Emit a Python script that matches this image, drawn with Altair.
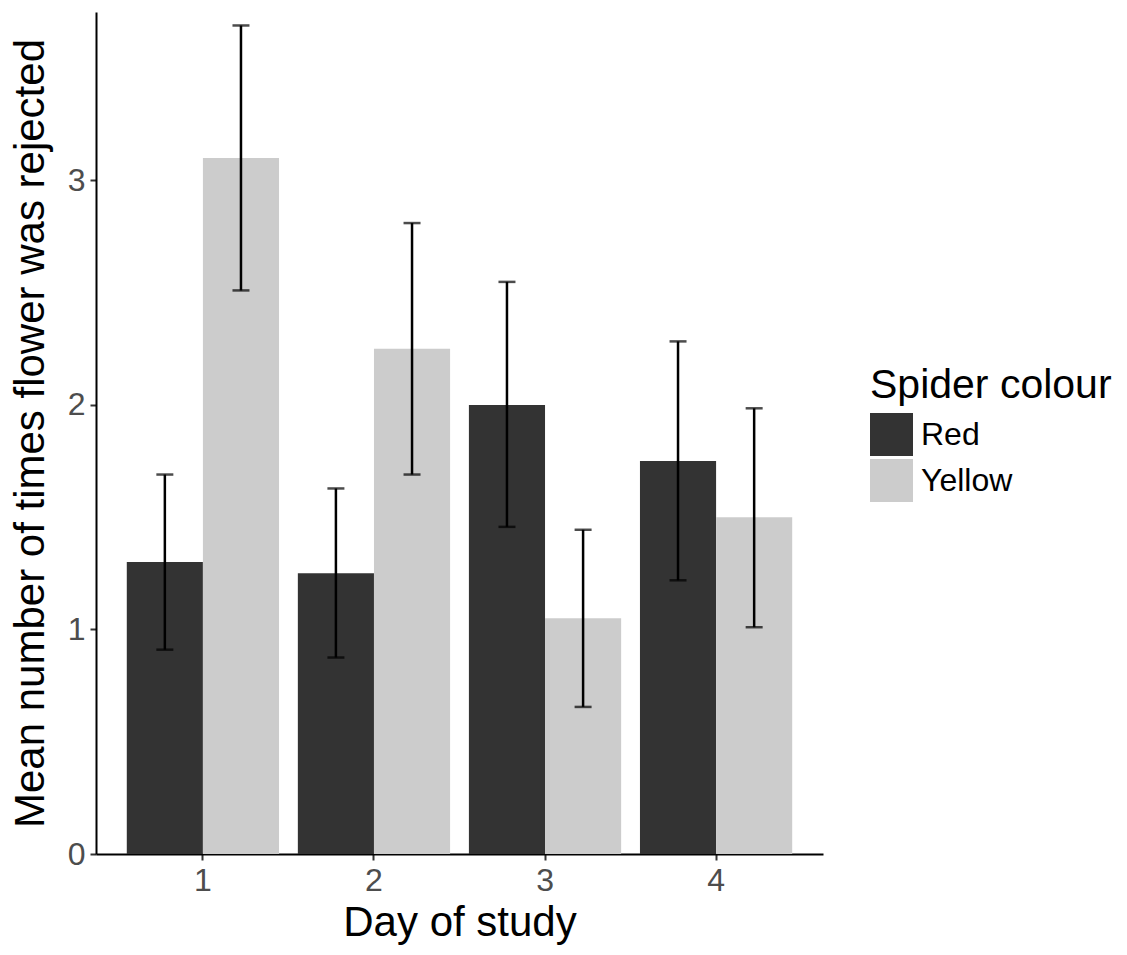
import altair as alt
import pandas as pd

days = ["1", "2", "3", "4"]
groups = ["Red", "Yellow"]
red_mean = [1.30, 1.25, 2.00, 1.75]
red_lower = [0.91, 0.875, 1.457, 1.219]
red_upper = [1.69, 1.628, 2.548, 2.283]
yellow_mean = [3.10, 2.25, 1.05, 1.50]
yellow_lower = [2.51, 1.69, 0.655, 1.01]
yellow_upper = [3.69, 2.81, 1.444, 1.985]
fill_colours = ["#333333", "#cccccc"]

rows = []
for i, d in enumerate(days):
    rows.append({"day": d, "colour": "Red", "mean": red_mean[i], "lo": red_lower[i], "hi": red_upper[i]})
    rows.append({"day": d, "colour": "Yellow", "mean": yellow_mean[i], "lo": yellow_lower[i], "hi": yellow_upper[i]})
df = pd.DataFrame(rows)

FONT = "Liberation Sans"

x_enc = alt.X("day:N", sort=days,
              scale=alt.Scale(paddingInner=0.11, paddingOuter=0.18),
              axis=alt.Axis(title="Day of study", labelAngle=0))
xoff = alt.XOffset("colour:N", sort=groups, scale=alt.Scale(paddingInner=0, paddingOuter=0))
y_scale = alt.Scale(domain=[0, 3.75], nice=False, zero=True)

base = alt.Chart(df)

bars = base.mark_bar(stroke=None).encode(
    x=x_enc,
    xOffset=xoff,
    y=alt.Y("mean:Q", scale=y_scale,
            axis=alt.Axis(title="Mean number of times flower was rejected",
                          values=[0, 1, 2, 3], format="d", titleLimit=900)),
    color=alt.Color("colour:N", sort=groups,
                    scale=alt.Scale(domain=groups, range=fill_colours),
                    legend=alt.Legend(title="Spider colour", orient="none",
                                      legendX=774, legendY=354,
                                      symbolType="square", symbolSize=1849,
                                      symbolStrokeWidth=0, symbolOpacity=1,
                                      titleFontSize=41, titleFont=FONT, titleColor="black",
                                      titleFontWeight="normal", titlePadding=6, titleLimit=400,
                                      labelFontSize=32, labelFont=FONT, labelColor="black",
                                      labelOffset=8, rowPadding=3, labelLimit=300)),
)

rules = base.mark_rule(color="black", strokeWidth=2.5).encode(
    x=x_enc, xOffset=xoff,
    y=alt.Y("lo:Q", scale=y_scale), y2="hi:Q",
)

caps_hi = base.mark_tick(color="black", thickness=2.5, size=17, orient="horizontal").encode(
    x=x_enc, xOffset=xoff, y=alt.Y("hi:Q", scale=y_scale),
)
caps_lo = base.mark_tick(color="black", thickness=2.5, size=17, orient="horizontal").encode(
    x=x_enc, xOffset=xoff, y=alt.Y("lo:Q", scale=y_scale),
)

chart = alt.layer(bars, rules, caps_hi, caps_lo).properties(
    width=727, height=842,
    autosize=alt.AutoSizeParams(type="none"),
    padding={"left": 96, "top": 12, "right": 304, "bottom": 101},
).configure_view(stroke=None).configure_axis(
    grid=False,
    domainColor="black", domainWidth=2,
    tickColor="#333333", tickWidth=2, tickSize=6,
    labelFont=FONT, labelFontSize=32, labelColor="#4d4d4d", labelPadding=5,
    titleFont=FONT, titleFontSize=42, titleColor="black", titleFontWeight="normal",
).configure_axisX(titlePadding=6).configure_axisY(titlePadding=15)

chart.save("out.html", embed_options={"renderer": "svg", "actions": False})
